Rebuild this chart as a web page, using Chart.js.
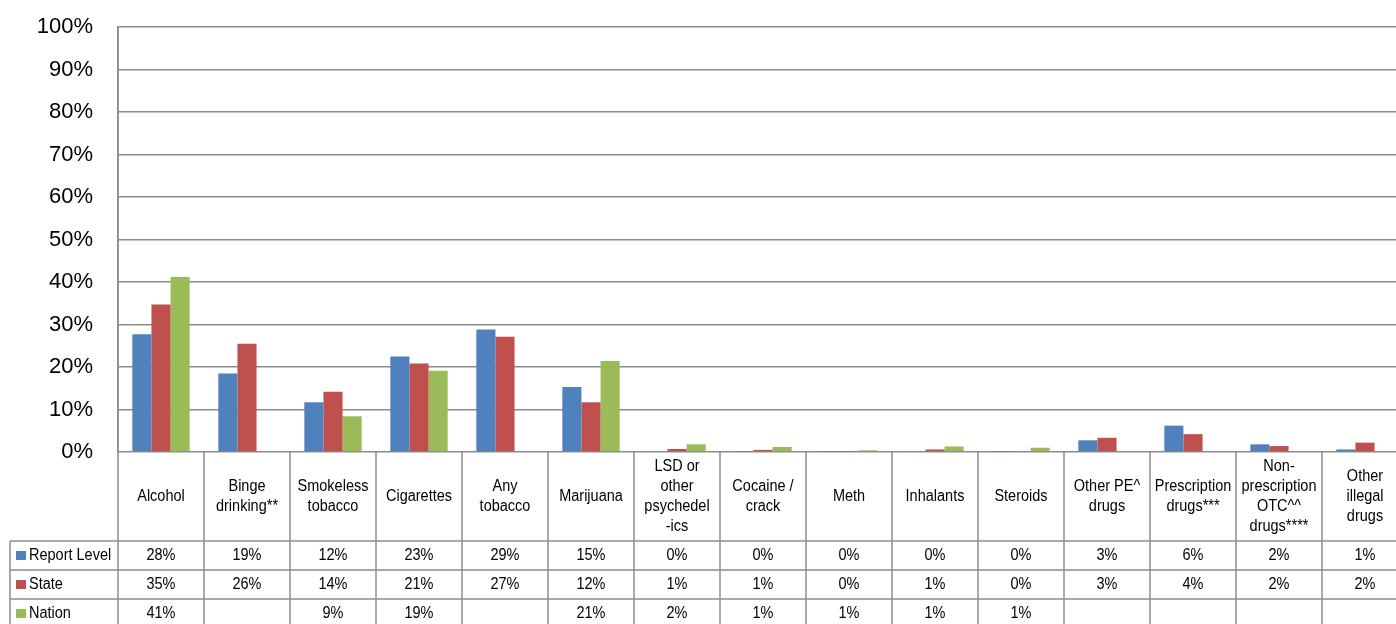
<!DOCTYPE html>
<html>
<head>
<meta charset="utf-8">
<script src="https://cdn.jsdelivr.net/npm/chart.js@4/dist/chart.umd.min.js"></script>
<style>
  html, body { margin: 0; padding: 0; background: #fff; overflow: hidden; }
  #wrap { position: relative; width: 1412px; height: 624px; }
</style>
</head>
<body>
<div id="wrap"><canvas id="c" width="1412" height="624"></canvas></div>
<script>
// ---- data ----
const categories = [
  ["Alcohol"], ["Binge", "drinking**"], ["Smokeless", "tobacco"], ["Cigarettes"],
  ["Any", "tobacco"], ["Marijuana"], ["LSD or", "other", "psychedel", "-ics"],
  ["Cocaine /", "crack"], ["Meth"], ["Inhalants"], ["Steroids"],
  ["Other PE^", "drugs"], ["Prescription", "drugs***"],
  ["Non-", "prescription", "OTC^^", "drugs****"], ["Other", "illegal", "drugs"]
];
const seriesNames = ["Report Level", "State", "Nation"];
const reportLevel = [27.7, 18.5, 11.7, 22.5, 28.8, 15.3, 0.2, 0.1, 0.05, 0.2, 0.05, 2.75, 6.2, 1.8, 0.6];
const state       = [34.7, 25.5, 14.2, 20.8, 27.1, 11.7, 0.7, 0.5, 0.1, 0.6, 0.2, 3.35, 4.2, 1.4, 2.2];
const nation      = [41.2, null, 8.4, 19.1, null, 21.4, 1.8, 1.2, 0.4, 1.3, 1.0, null, null, null, null];
const reportLevelText = ["28%","19%","12%","23%","29%","15%","0%","0%","0%","0%","0%","3%","6%","2%","1%"];
const stateText       = ["35%","26%","14%","21%","27%","12%","1%","1%","0%","1%","0%","3%","4%","2%","2%"];
const nationText      = ["41%","","9%","19%","","21%","2%","1%","1%","1%","1%","","","",""];
const yTicks = [0, 10, 20, 30, 40, 50, 60, 70, 80, 90, 100];

const colors = ["#4F81BD", "#C0504D", "#9BBB59"];
const gridColor = "#8c8c8c";
const FONT = "'Liberation Sans', Arial, sans-serif";

const tablePlugin = {
  id: 'dataTable',
  afterDraw(chart) {
    const ctx = chart.ctx;
    const area = chart.chartArea;
    const xs = chart.scales.x;
    const n = categories.length;
    const w = (area.right - area.left) / n;
    const H = chart.height;
    const rowTop = [area.bottom, area.bottom + 89, area.bottom + 118, area.bottom + 147];
    ctx.save();
    ctx.strokeStyle = gridColor;
    ctx.lineWidth = 1.5;
    for (let i = 0; i <= n; i++) {
      const x = area.left + i * w;
      ctx.beginPath();
      ctx.moveTo(x, i === 0 ? area.top : area.bottom);
      ctx.lineTo(x, H + 5);
      ctx.stroke();
    }
    ctx.beginPath();
    ctx.moveTo(area.right, area.top); ctx.lineTo(area.right, area.bottom); ctx.stroke();
    ctx.beginPath();
    ctx.moveTo(10, rowTop[1]); ctx.lineTo(10, H + 5); ctx.stroke();
    for (let r = 1; r < rowTop.length; r++) {
      ctx.beginPath();
      ctx.moveTo(10, rowTop[r]); ctx.lineTo(area.right, rowTop[r]); ctx.stroke();
    }
    ctx.fillStyle = "#000";
    ctx.textAlign = "center";
    ctx.textBaseline = "middle";
    ctx.font = "14.5px " + FONT;
    const drawText = (t, x, y) => {
      ctx.save();
      ctx.translate(x, y);
      ctx.scale(1, 1.12);
      ctx.fillText(t, 0, 0);
      ctx.restore();
    };
    const labMid = (rowTop[0] + rowTop[1]) / 2;
    categories.forEach((lines, i) => {
      const cx = xs.getPixelForValue(i);
      const lh = 20;
      const y0 = labMid - (lines.length - 1) * lh / 2;
      lines.forEach((t, k) => drawText(t, cx, y0 + k * lh));
    });
    const texts = [reportLevelText, stateText, nationText];
    texts.forEach((arr, r) => {
      const cy = (rowTop[r + 1] + (rowTop[r + 2] !== undefined ? rowTop[r + 2] : rowTop[r + 1] + 29)) / 2;
      arr.forEach((t, i) => { if (t) drawText(t, xs.getPixelForValue(i), cy); });
      ctx.fillStyle = colors[r];
      ctx.fillRect(16, cy - 4.5, 10, 9);
      ctx.fillStyle = "#000";
      ctx.textAlign = "left";
      drawText(seriesNames[r], 29, cy);
      ctx.textAlign = "center";
    });
    ctx.restore();
  }
};

const mk = (label, data, color) => ({
  label, data,
  backgroundColor: color,
  borderColor: color,
  borderWidth: 0,
  categoryPercentage: 0.667,
  barPercentage: 1.0
});

new Chart(document.getElementById('c'), {
  type: 'bar',
  data: {
    labels: categories.map(l => l.join(' ')),
    datasets: [
      mk(seriesNames[0], reportLevel, colors[0]),
      mk(seriesNames[1], state, colors[1]),
      mk(seriesNames[2], nation, colors[2])
    ]
  },
  options: {
    responsive: false,
    animation: false,
    devicePixelRatio: 1,
    layout: { padding: { top: 27, bottom: 172, left: 0, right: 4 } },
    plugins: { legend: { display: false }, tooltip: { enabled: false } },
    scales: {
      x: { display: false },
      y: {
        min: 0, max: 100,
        afterFit(scale) { scale.width = 118; scale.paddingTop = 0; scale.paddingBottom = 0; },
        afterBuildTicks(scale) { scale.ticks = yTicks.map(v => ({ value: v })); },
        ticks: {
          padding: 25,
          color: "#000",
          font: { family: FONT, size: 22 },
          callback: v => v + '%'
        },
        grid: { color: gridColor, lineWidth: 1.5, drawTicks: false },
        border: { display: true, color: gridColor, width: 1.5 }
      }
    }
  },
  plugins: [tablePlugin]
});
</script>
</body>
</html>
